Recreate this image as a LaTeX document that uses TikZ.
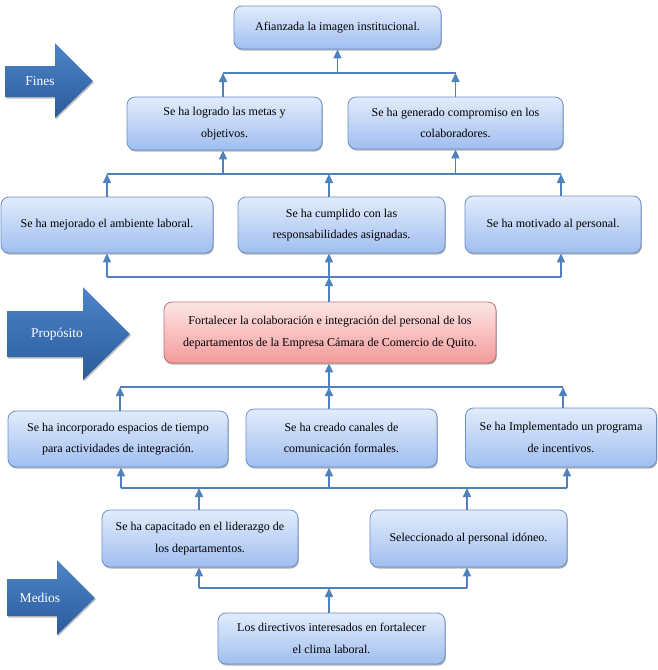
\documentclass[tikz,border=0pt]{standalone}
\usepackage{fontspec}
\setmainfont{Liberation Serif}
\usetikzlibrary{arrows.meta,shadows,calc}
\definecolor{lineblue}{HTML}{4F81BD}
\definecolor{boxedge}{HTML}{6A8FC9}
\definecolor{boxtop}{HTML}{E2ECFB}
\definecolor{boxbot}{HTML}{A0BEF0}
\definecolor{rededge}{HTML}{C86E6E}
\definecolor{redtop}{HTML}{FDE6E6}
\definecolor{redbot}{HTML}{F39A9A}
\definecolor{bigtop}{HTML}{4C85C8}
\definecolor{bigbot}{HTML}{2B5B9C}
\begin{document}
\begin{tikzpicture}[x=1pt,y=-1pt,
  box/.style={draw=boxedge, line width=0.8pt, rounded corners=8pt,
    top color=boxtop, bottom color=boxbot, align=center, inner sep=0pt,
    font=\fontsize{12}{21.5}\selectfont,
    drop shadow={shadow xshift=0.8pt, shadow yshift=-1.6pt, opacity=0.3, fill=black}},
  redbox/.style={box, draw=rededge, top color=redtop, bottom color=redbot},
  arr/.style={draw=lineblue, line width=1.6pt, -{Triangle[width=8pt,length=9pt]}},
  ln/.style={draw=lineblue, line width=1.6pt},
  bigarrow/.style={top color=bigtop, bottom color=bigbot, draw=none,
    drop shadow={shadow xshift=1pt, shadow yshift=-1.5pt, opacity=0.25, fill=black}},
  biglabel/.style={text=white, font=\fontsize{13.5}{16}\selectfont, inner sep=0pt}
]
\useasboundingbox (0,0) rectangle (658,670);

% big side arrows
\path[bigarrow] (5,66) -- (55,66) -- (55,43) -- (93,81) -- (55,118) -- (55,97) -- (5,97) -- cycle;
\node[biglabel] (fines) at (40,81) {Fines};
\path[bigarrow] (7,311) -- (83,311) -- (83,287) -- (130,334) -- (83,380) -- (83,357) -- (7,357) -- cycle;
\node[biglabel] (proposito) at (57,334) {Propósito};
\path[bigarrow] (7,579) -- (57,579) -- (57,560) -- (95,598) -- (57,635) -- (57,616) -- (7,616) -- cycle;
\node[biglabel] (medios) at (40,598) {Medios};

% boxes
\node[box, minimum width=207pt, minimum height=43pt] (A) at (337.5,27.5) {Afianzada la imagen institucional.};
\node[box, minimum width=195pt, minimum height=53pt] (L) at (224.5,123.5) {Se ha logrado las metas y\\objetivos.};
\node[box, minimum width=215pt, minimum height=52pt] (G) at (455.5,123) {Se ha generado compromiso en los\\colaboradores.};
\node[box, minimum width=212pt, minimum height=56pt] (M) at (107,225) {Se ha mejorado el ambiente laboral.};
\node[box, minimum width=207pt, minimum height=56pt] (C) at (341.5,225) {Se ha cumplido con las\\responsabilidades asignadas.};
\node[box, minimum width=176pt, minimum height=57pt] (Mo) at (553,224.5) {Se ha motivado al personal.};
\node[redbox, minimum width=332pt, minimum height=61pt] (F) at (330,332.5) {Fortalecer la colaboración e integración del personal de los\\departamentos de la Empresa Cámara de Comercio de Quito.};
\node[box, minimum width=220pt, minimum height=56pt] (I) at (118,439) {Se ha incorporado espacios de tiempo\\para actividades de integración.};
\node[box, minimum width=191pt, minimum height=58pt] (Ca) at (341.5,438) {Se ha creado canales de\\comunicación formales.};
\node[box, minimum width=191pt, minimum height=59pt] (Im) at (561,437.5) {Se ha Implementado un programa\\de incentivos.};
\node[box, minimum width=196pt, minimum height=57pt] (Cp) at (200,538.5) {Se ha capacitado en el liderazgo de\\los departamentos.};
\node[box, minimum width=197pt, minimum height=57pt] (S) at (468.5,538.5) {Seleccionado al personal idóneo.};
\node[box, minimum width=227pt, minimum height=51pt] (D) at (331.5,638.5) {Los directivos interesados en fortalecer\\el clima laboral.};

% level lines
\coordinate (h1) at (0,73);
\coordinate (h2) at (0,174);
\coordinate (h3) at (0,277);
\coordinate (h4) at (0,387);
\coordinate (h5) at (0,488);
\coordinate (h6) at (0,588);

% level 1
\draw[ln] ([xshift=-1.5pt]L.north |- h1) -- (G.north |- h1);
\draw[arr] ([xshift=-1.5pt]L.north) -- ([xshift=-1.5pt]L.north |- h1);
\draw[arr] (G.north) -- (G.north |- h1);
\draw[arr] (A.south |- h1) -- (A.south);

% level 2
\draw[ln] (M.north |- h2) -- ([xshift=8pt]Mo.north |- h2);
\draw[arr] (M.north) -- (M.north |- h2);
\draw[arr] ([xshift=-12.5pt]C.north) -- ([xshift=-12.5pt]C.north |- h2);
\draw[arr] ([xshift=8pt]Mo.north) -- ([xshift=8pt]Mo.north |- h2);
\draw[arr] ([xshift=-1.5pt]L.south |- h2) -- ([xshift=-1.5pt]L.south);
\draw[arr] (G.south |- h2) -- (G.south);

% level 3
\draw[ln] (M.south |- h3) -- ([xshift=8pt]Mo.south |- h3);
\draw[arr] (M.south |- h3) -- (M.south);
\draw[arr] ([xshift=-12.5pt]C.south |- h3) -- ([xshift=-12.5pt]C.south);
\draw[arr] ([xshift=8pt]Mo.south |- h3) -- ([xshift=8pt]Mo.south);
\draw[arr] ([xshift=-1pt]F.north) -- ([xshift=-1pt]F.north |- h3);

% level 4
\draw[ln] ([xshift=2pt]I.north |- h4) -- ([xshift=2pt]Im.north |- h4);
\draw[arr] ([xshift=2pt]I.north) -- ([xshift=2pt]I.north |- h4);
\draw[arr] ([xshift=-12.5pt]Ca.north) -- ([xshift=-12.5pt]Ca.north |- h4);
\draw[arr] ([xshift=2pt]Im.north) -- ([xshift=2pt]Im.north |- h4);
\draw[arr] ([xshift=-1pt]F.south |- h4) -- ([xshift=-1pt]F.south);

% level 5
\draw[ln] ([xshift=3pt]I.south |- h5) -- ([xshift=6pt]Im.south |- h5);
\draw[arr] ([xshift=3pt]I.south |- h5) -- ([xshift=3pt]I.south);
\draw[arr] ([xshift=-12.5pt]Ca.south |- h5) -- ([xshift=-12.5pt]Ca.south);
\draw[arr] ([xshift=6pt]Im.south |- h5) -- ([xshift=6pt]Im.south);
\draw[arr] ([xshift=-1pt]Cp.north) -- ([xshift=-1pt]Cp.north |- h5);
\draw[arr] ([xshift=-1.5pt]S.north) -- ([xshift=-1.5pt]S.north |- h5);

% level 6
\draw[ln] ([xshift=-1pt]Cp.south |- h6) -- ([xshift=-1.5pt]S.south |- h6);
\draw[arr] ([xshift=-1pt]Cp.south |- h6) -- ([xshift=-1pt]Cp.south);
\draw[arr] ([xshift=-1.5pt]S.south |- h6) -- ([xshift=-1.5pt]S.south);
\draw[arr] ([xshift=-2.5pt]D.north) -- ([xshift=-2.5pt]D.north |- h6);
\end{tikzpicture}
\end{document}
